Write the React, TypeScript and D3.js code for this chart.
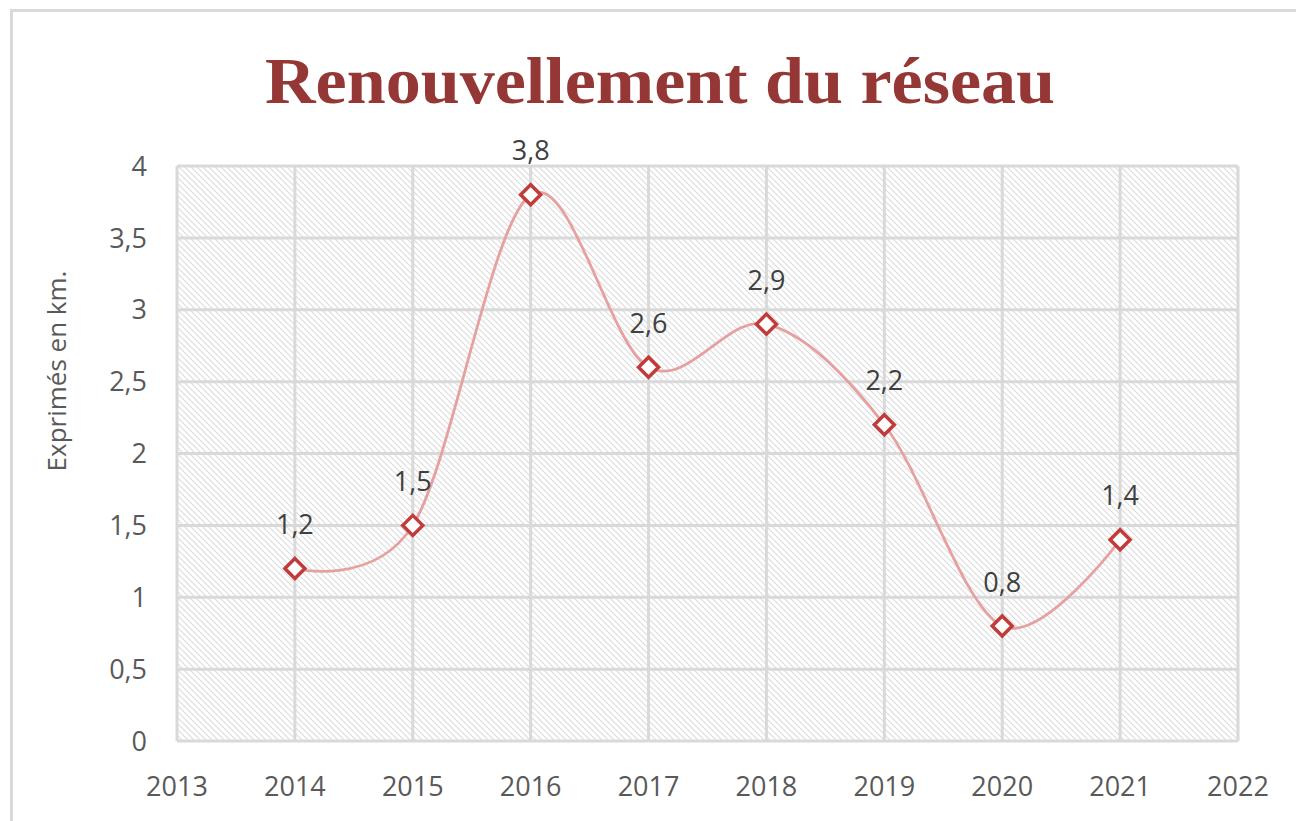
import React from "react";
import * as d3 from "d3";

const years = [2014, 2015, 2016, 2017, 2018, 2019, 2020, 2021];
const values = [1.2, 1.5, 3.8, 2.6, 2.9, 2.2, 0.8, 1.4];
const xTicks = [2013, 2014, 2015, 2016, 2017, 2018, 2019, 2020, 2021, 2022];
const yTicks = [0, 0.5, 1, 1.5, 2, 2.5, 3, 3.5, 4];
const title = "Renouvellement du réseau";
const yTitle = "Exprimés en km.";

const W = 1296, H = 821;
const plot = { left: 177, right: 1238, top: 166, bottom: 741 };

const fmt = (v: number) => String(v).replace(".", ",");

export default function App() {
  const x = d3.scaleLinear().domain([2013, 2022]).range([plot.left, plot.right]);
  const y = d3.scaleLinear().domain([0, 4]).range([plot.bottom, plot.top]);
  const pts: [number, number][] = years.map((yr, i) => [x(yr), y(values[i])]);
  const line = d3.line().curve(d3.curveCardinal.tension(0))(pts) || "";
  const font = "'Open Sans', sans-serif";
  const r = 10;
  return (
    <svg width={W} height={H} style={{ position: "absolute", left: 0, top: 0, background: "#fff" }}>
      <defs>
        <pattern id="hatch" width="6" height="6" patternUnits="userSpaceOnUse">
          <path d="M-1,-1 L7,7 M-1,5 L1,7 M5,-1 L7,1" stroke="#dcdcdc" strokeWidth="1.1" />
        </pattern>
      </defs>
      <rect x={0} y={0} width={W} height={H} fill="#fff" />
      <path d={`M11.5,${H + 5} L11.5,10.5 L${W + 5},10.5`} fill="none" stroke="#d9d9d9" strokeWidth={3} />
      <text x={660} y={103} textAnchor="middle" fontFamily="'Liberation Serif', serif" fontWeight="bold"
        fontSize={66} fill="#953735" textLength={790} lengthAdjust="spacingAndGlyphs">{title}</text>
      <rect x={plot.left} y={plot.top} width={plot.right - plot.left} height={plot.bottom - plot.top} fill="url(#hatch)" />
      {yTicks.map((t) => (
        <line key={"gy" + t} x1={plot.left} x2={plot.right} y1={y(t)} y2={y(t)} stroke="#d9d9d9" strokeWidth={3} />
      ))}
      {xTicks.map((t) => (
        <line key={"gx" + t} x1={x(t)} x2={x(t)} y1={plot.top} y2={plot.bottom} stroke="#d9d9d9" strokeWidth={3} />
      ))}
      {yTicks.map((t) => (
        <text key={"ty" + t} x={147} y={y(t)} dy="0.36em" textAnchor="end" fontFamily={font} fontSize={27} fill="#595959">{fmt(t)}</text>
      ))}
      {xTicks.map((t) => (
        <text key={"tx" + t} x={x(t)} y={796} textAnchor="middle" fontFamily={font} fontSize={27} fill="#595959">{t}</text>
      ))}
      <text transform={`translate(66,371) rotate(-90)`} textAnchor="middle" fontFamily={font} fontSize={26} fill="#595959">{yTitle}</text>
      <path d={line} fill="none" stroke="#e6a0a0" strokeWidth={2.8} />
      {pts.map(([px, py], i) => (
        <g key={"p" + i}>
          <path d={`M${px},${py - r} L${px + r},${py} L${px},${py + r} L${px - r},${py} Z`} fill="#fff" stroke="#c23b3b" strokeWidth={3.5} />
          <text x={px} y={py - 44} dy="0.36em" textAnchor="middle" fontFamily={font} fontSize={27} fill="#404040">{fmt(values[i])}</text>
        </g>
      ))}
    </svg>
  );
}
